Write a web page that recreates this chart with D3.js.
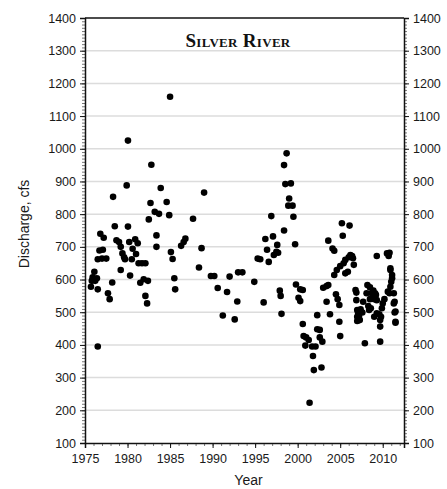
<!DOCTYPE html>
<html>
<head>
<meta charset="utf-8">
<script src="https://cdn.jsdelivr.net/npm/d3@7"></script>
<style>
  body { margin: 0; background: #fff; }
  .axis text { font-family: Arial, "Liberation Sans", sans-serif; font-size: 12.5px; fill: #1a1a1a; }
  .axis path { stroke: #111; stroke-width: 1.5; }
  .axis .tick line { stroke: #111; }
  .minor .tick line { stroke: #777; }
  .minor path { display: none; }
  .grid line { stroke: #dcdcdc; stroke-width: 1.5; }
  .dot { fill: #000; }
</style>
</head>
<body>
<div id="chart"></div>
<script>
// Silver River discharge samples
var years = [
  1975.7, 1975.8, 1975.9, 1976.1, 1976.2, 1976.4, 1976.5, 1976.5, 1976.5, 1976.7,
  1976.8, 1977.0, 1977.1, 1977.2, 1977.5, 1977.7, 1977.9, 1978.2, 1978.3, 1978.5,
  1978.7, 1979.0, 1979.2, 1979.2, 1979.4, 1979.6, 1979.7, 1979.9, 1980.05, 1980.05,
  1980.2, 1980.3, 1980.5, 1980.6, 1980.9, 1981.0, 1981.2, 1981.3, 1981.5, 1981.7,
  1981.9, 1982.1, 1982.1, 1982.3, 1982.4, 1982.5, 1982.7, 1982.8, 1983.2, 1983.4,
  1983.4, 1983.7, 1983.9, 1984.6, 1984.9, 1985.0, 1985.1, 1985.3, 1985.5, 1985.6,
  1986.3, 1986.6, 1986.8, 1987.7, 1988.4, 1988.7, 1989.0, 1989.8, 1990.2, 1990.6,
  1991.2, 1991.7, 1992.0, 1992.6, 1992.9, 1993.0, 1993.5, 1994.9, 1995.3, 1995.6,
  1996.0, 1996.2, 1996.4, 1996.6, 1996.9, 1997.1, 1997.2, 1997.5, 1997.6, 1997.7,
  1997.9, 1998.0, 1998.1, 1998.4, 1998.4, 1998.55, 1998.7, 1998.9, 1999.0, 1999.2,
  1999.4, 1999.5, 1999.7, 1999.8,
  2000.1, 2000.3, 2000.3, 2000.6, 2000.6, 2000.7, 2000.9, 2001.0, 2001.3, 2001.4,
  2001.7, 2001.8, 2001.9, 2002.1, 2002.3, 2002.3, 2002.6, 2002.6, 2002.8, 2002.9,
  2003.0, 2003.4, 2003.4, 2003.6, 2003.6, 2003.8, 2004.1, 2004.3, 2004.3, 2004.5,
  2004.6, 2004.7, 2004.9, 2004.9, 2005.0, 2005.0, 2005.2, 2005.3, 2005.4, 2005.6,
  2005.6, 2005.9, 2006.0, 2006.1, 2006.2, 2006.4, 2006.5, 2006.6,
  2006.8, 2006.9, 2006.9, 2007.0, 2007.1, 2007.0, 2007.2, 2007.3, 2007.0, 2007.2,
  2007.4, 2007.6, 2007.7, 2007.9, 2008.1, 2008.2, 2008.3, 2008.4, 2008.5, 2008.5,
  2008.6, 2008.7, 2008.9, 2009.0, 2009.1, 2009.2, 2009.3, 2009.0, 2009.3, 2009.0,
  2009.3, 2009.6, 2009.7, 2009.8, 2009.7, 2009.7, 2009.9, 2010.0, 2010.2, 2010.5,
  2010.6, 2010.7, 2010.8, 2010.8, 2010.9, 2010.9, 2011.0, 2011.1, 2011.1, 2011.3,
  2011.4, 2011.3, 2011.4, 2011.5, 2011.5, 2011.5, 2010.9
];
var discharge = [
  578, 596, 607, 624, 596, 604, 570, 662, 395, 689,
  740, 664, 691, 728, 664, 558, 540, 591, 853, 763,
  720, 715, 700, 629, 680, 668, 662, 888, 1025, 762,
  715, 612, 662, 694, 723, 678, 711, 650, 590, 650,
  601, 650, 550, 527, 596, 784, 834, 951, 807, 735,
  700, 801, 880, 837, 797, 1159, 684, 663, 604, 570,
  703, 715, 725, 786, 637, 696, 866, 611, 611, 574,
  490, 562, 609, 478, 533, 622, 622, 593, 664, 662,
  530, 724, 691, 654, 794, 732, 675, 685, 706, 682,
  566, 550, 495, 950, 750, 892, 986, 826, 848, 894,
  826, 792, 708, 585,
  544, 534, 570, 568, 464, 427, 398, 423, 415, 223,
  395, 366, 323, 395, 491, 448, 446, 423, 331, 410,
  575, 580, 532, 583, 719, 494, 695, 688, 614, 555,
  629, 540, 522, 471, 641, 427, 772, 734, 650, 619,
  660, 624, 668, 765, 675, 672, 665, 645,
  568, 560, 537, 507, 499, 486, 481, 476, 473, 488,
  509, 499, 532, 405, 558, 583, 519, 507, 576, 540,
  512, 558, 566, 543, 558, 553, 672, 540, 537, 486,
  497, 494, 476, 486, 456, 410, 512, 527, 540, 680,
  563, 672, 682, 558, 629, 578, 593, 614, 604, 558,
  532, 527, 499, 502, 471, 468, 634
];
var yTicks = d3.range(100, 1401, 100);
var xTicks = [1975, 1980, 1985, 1990, 1995, 2000, 2005, 2010];

var pwidth = 447;
var pheight = 489;
var margin = {top: 18, right: 43, bottom: 46, left: 85}
  , width = pwidth - margin.left - margin.right
  , height = pheight - margin.top - margin.bottom;

// scales
var xScale = d3.scaleLinear()
  .domain([1975, 2012.5])
  .range([0, width]);

var yScale = d3.scaleLinear()
  .domain([100, 1400])
  .range([height, 0]);

var svg = d3.select("#chart").append("svg")
  .attr("width", pwidth)
  .attr("height", pheight)
  .append("g")
  .attr("transform", "translate(" + margin.left + "," + margin.top + ")");

// light horizontal grid
svg.append("g")
  .attr("class", "grid")
  .selectAll("line")
  .data(yTicks.slice(1, -1))
  .enter().append("line")
  .attr("x1", 0)
  .attr("x2", width)
  .attr("y1", function(d) { return yScale(d); })
  .attr("y2", function(d) { return yScale(d); });

// minor ticks (10 cfs on y, 1 year on x)
svg.append("g")
  .attr("class", "axis minor")
  .call(d3.axisLeft(yScale).tickValues(d3.range(100, 1401, 10)).tickSize(3).tickFormat(""));
svg.append("g")
  .attr("class", "axis minor")
  .attr("transform", "translate(" + width + ",0)")
  .call(d3.axisRight(yScale).tickValues(d3.range(100, 1401, 10)).tickSize(3).tickFormat(""));
svg.append("g")
  .attr("class", "axis minor")
  .attr("transform", "translate(0," + height + ")")
  .call(d3.axisBottom(xScale).tickValues(d3.range(1975, 2013, 1)).tickSize(3).tickFormat(""));

// major axes
svg.append("g")
  .attr("class", "axis")
  .call(d3.axisLeft(yScale).tickValues(yTicks).tickFormat(d3.format("d")).tickSizeOuter(0).tickSize(5).tickPadding(4));
svg.append("g")
  .attr("class", "axis")
  .attr("transform", "translate(" + width + ",0)")
  .call(d3.axisRight(yScale).tickValues(yTicks).tickFormat(d3.format("d")).tickSizeOuter(0).tickSize(5).tickPadding(4));
svg.append("g")
  .attr("class", "axis")
  .attr("transform", "translate(0," + height + ")")
  .call(d3.axisBottom(xScale).tickValues(xTicks).tickFormat(d3.format("d")).tickSizeOuter(0).tickSize(5).tickPadding(6));

// top frame line
svg.append("line")
  .attr("x1", 0).attr("x2", width)
  .attr("y1", 0).attr("y2", 0)
  .attr("stroke", "#111")
  .attr("stroke-width", 1.5);

// points
svg.selectAll(".dot")
  .data(years)
  .enter().append("circle")
  .attr("class", "dot")
  .attr("cx", function(d) { return xScale(d); })
  .attr("cy", function(d, i) { return yScale(discharge[i]); })
  .attr("r", 3.3);

// title
svg.append("text")
  .attr("x", 153)
  .attr("y", 29)
  .attr("text-anchor", "middle")
  .style("font-family", "'Liberation Serif', 'DejaVu Serif', serif")
  .style("font-weight", "bold")
  .style("font-variant", "small-caps")
  .style("font-size", "19px")
  .style("letter-spacing", "0.3px")
  .attr("fill", "#111")
  .text("Silver River");

// axis labels
svg.append("text")
  .attr("x", width / 2 + 4)
  .attr("y", height + 42)
  .attr("text-anchor", "middle")
  .style("font-family", "Arial, 'Liberation Sans', sans-serif")
  .style("font-size", "14px")
  .attr("fill", "#1a1a1a")
  .text("Year");

svg.append("text")
  .attr("transform", "rotate(-90)")
  .attr("x", -206)
  .attr("y", -56)
  .attr("text-anchor", "middle")
  .style("font-family", "Arial, 'Liberation Sans', sans-serif")
  .style("font-size", "14px")
  .attr("fill", "#1a1a1a")
  .text("Discharge, cfs");
</script>
</body>
</html>
